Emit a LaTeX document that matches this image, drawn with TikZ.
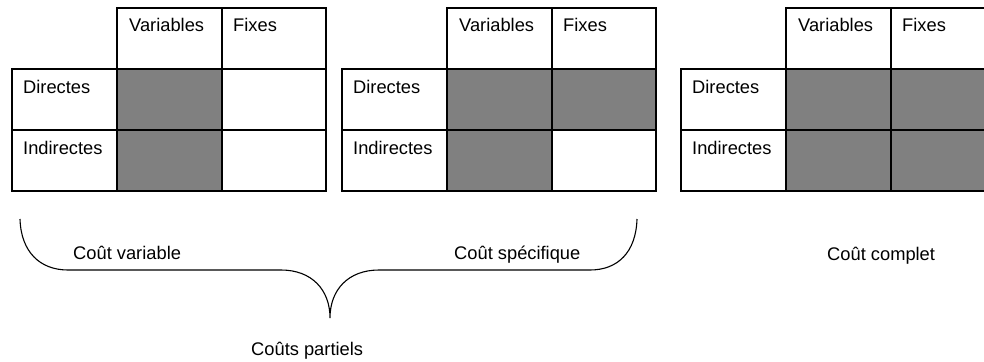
\documentclass[tikz,border=0pt]{standalone}
\usepackage{fontspec}
\setmainfont{Liberation Sans}
\definecolor{shadegray}{RGB}{128,128,128}

% One cost grid: #1 left edge, #2 name prefix,
% #3..#6 fills of variable/direct, fixed/direct, variable/indirect, fixed/indirect
\newcommand\costgrid[6]{%
  \begin{scope}[shift={(#1,0)}]
    \node[cell,minimum width=105pt] (#2-hv) at (105,8) {};
    \node[cell,minimum width=104pt] (#2-hf) at (210,8) {};
    \node[cell,minimum width=105pt] (#2-rd) at (0,69) {};
    \node[cell,minimum width=105pt] (#2-ri) at (0,130) {};
    \node[cell,minimum width=105pt,fill=#3] (#2-vd) at (105,69) {};
    \node[cell,minimum width=104pt,fill=#4] (#2-fd) at (210,69) {};
    \node[cell,minimum width=105pt,fill=#5] (#2-vi) at (105,130) {};
    \node[cell,minimum width=104pt,fill=#6] (#2-fi) at (210,130) {};
    \node[lbl] (#2-tv) at (117,32) {Variables};
    \node[lbl] (#2-tf) at (221,32) {Fixes};
    \node[lbl] (#2-td) at (11,93) {Directes};
    \node[lbl] (#2-ti) at (11,154) {Indirectes};
  \end{scope}}

\begin{document}
\begin{tikzpicture}[x=1pt,y=-1pt,
  cell/.style={draw=black,line width=1.2pt,fill=white,minimum height=61pt,
    inner sep=0pt,outer sep=0pt,anchor=north west},
  lbl/.style={anchor=base west,inner sep=0pt,text=black,
    font=\fontsize{18.3}{22}\selectfont},
  brace/.style={draw=black,line width=1.1pt}]
  \useasboundingbox (0,0) rectangle (984,361);
  \clip (0,0) rectangle (984,361);

  \costgrid{12}{ga}{shadegray}{white}{shadegray}{white}
  \costgrid{342}{gb}{shadegray}{shadegray}{shadegray}{white}
  \costgrid{681}{gc}{shadegray}{shadegray}{shadegray}{shadegray}

  % curly brace grouping the two partial costs
  \coordinate (bl) at (20,219);
  \coordinate (bl2) at (68,270);
  \coordinate (bm1) at (281,270);
  \coordinate (tip) at (330,318);
  \coordinate (bm2) at (379,270);
  \coordinate (br2) at (590,270);
  \coordinate (br) at (637,219);
  \draw[brace] (bl) .. controls (21,252) and (40,270) .. (bl2)
    -- (bm1) .. controls (312,270) and (330,290) .. (tip)
    .. controls (330,290) and (348,270) .. (bm2)
    -- (br2) .. controls (618,270) and (636,252) .. (br);

  \node[lbl] (cv) at (73,259) {Coût variable};
  \node[lbl] (cs) at (454,259) {Coût spécifique};
  \node[lbl] (cc) at (827,260) {Coût complet};
  \node[lbl] (cp) at (251,355) {Coûts partiels};
\end{tikzpicture}
\end{document}
